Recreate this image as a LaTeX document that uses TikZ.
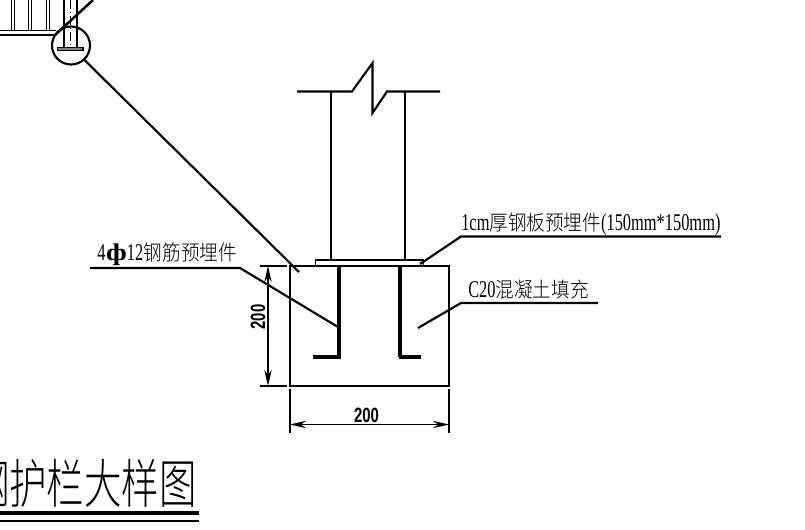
\documentclass[tikz,border=0pt]{standalone}
\usepackage{fontspec}
\setmainfont{Liberation Serif}
\newfontfamily\cjkfont{Noto Sans CJK SC Light}
\newfontfamily\dimfont{Liberation Sans}
\usetikzlibrary{arrows.meta,positioning}
\newcommand{\cadcjk}[2][.93]{\scalebox{#1}[1.05]{\cjkfont #2}}
\newcommand{\cadlat}[1]{\scalebox{.82}[1.2]{#1}}
\begin{document}
\begin{tikzpicture}[x=.75pt,y=-.75pt,>={Stealth[length=12pt,width=5.5pt]},
		thinline/.style={line width=.8pt},
		mainline/.style={line width=1.6pt},
		leader/.style={line width=1.6pt},
		rebar/.style={line width=3pt},
		dimline/.style={line width=1.3pt},
		note/.style={inner sep=0pt,font=\fontsize{15pt}{15pt}\selectfont},
		dimtext/.style={inner sep=0pt,font=\dimfont\bfseries\fontsize{15.5pt}{15.5pt}\selectfont}]
		\useasboundingbox (0,0) rectangle (805,529);
		\clip (0,0) rectangle (805,529);
		
		% railing, upper left
		\foreach \x in {13,30,48}
			\draw[thinline,double distance=1.4pt] (\x,0) -- (\x,31);
		\draw[thinline] (0,30.5) -- (56,30.5) (0,35) -- (56,35);
		\draw[thinline] (64,0) -- (64,47) (77,0) -- (77,47);
		\draw[thinline,line width=.4pt,dash pattern=on 7pt off 2pt on 1pt off 2pt] (70.5,0) -- (70.5,47);
		\draw[thinline,fill=gray] (57.5,47.5) rectangle (83,50.5);
		\draw[mainline,line width=1.9pt] (93,0) -- (55,35);
		\node[draw,circle,mainline,minimum size=28.5pt,inner sep=0pt] (detail) at (71,45.5) {};
		\coordinate (detailend) at (299,272);
		\draw[mainline] (detail) ++(13.5,14.5) -- (detailend);
		
		% column with break line
		\draw[mainline] (297,91.5) -- (352,91.5) -- (372.5,63) -- (372.5,113) -- (387,91.5) -- (440,91.5);
		\draw[mainline] (331,91.5) -- (331,260) (405,91.5) -- (405,260);
		
		% plate, concrete block, bars
		\node[draw,line width=1.2pt,minimum width=81pt,minimum height=4.5pt,inner sep=0pt] (plate) at (369.5,263) {};
		\draw[thinline] (290,266) rectangle (449,386);
		\draw[rebar] (339,266) -- (339,357);
		\draw[rebar] (313,357) -- (340.5,357);
		\draw[rebar] (400,266) -- (400,357);
		\draw[rebar] (398.5,357) -- (421,357);
		
		% notes
		\node[note,anchor=west] (barnote) at (97,254) {\cadlat{4}\hspace{.5pt}\scalebox{1.5}[1.2]{\bfseries ф}\cadlat{12}\hspace{.5pt}\cadcjk{钢筋预埋件}};
		\node[note,anchor=west] (platenote) at (461,224) {\cadlat{1cm}\cadcjk{厚钢板预埋件}\cadlat{(150mm*150mm)}};
		\node[note,anchor=west] (fillnote) at (468,290) {\cadlat{C20}\cadcjk{混凝土填充}};
		\draw[leader] (90,268) -- (240,268) -- (338,327);
		\draw[leader] (420,264) -- (461,236.5) -- (721,236.5);
		\draw[leader] (418,328) -- (461,303) -- (598,303);
		
		% dimensions
		\draw[dimline] (260,266) -- (287,266) (260,386) -- (287,386);
		\draw[dimline,<->] (268,266) -- (268,386);
		\node[dimtext,rotate=90] (dimv) at (258,317) {\scalebox{.72}[1]{200}};
		\draw[dimline] (290,389) -- (290,433) (449,389) -- (449,433);
		\draw[dimline,<->] (290,424.5) -- (449,424.5);
		\node[dimtext] (dimh) at (366.5,415) {\scalebox{.72}[1]{200}};
		
		% title
		\node[inner sep=0pt,anchor=east,font=\fontsize{36pt}{36pt}\selectfont] (title) at (197,483) {\scalebox{.78}[1.1]{\cjkfont 钢护栏大样图}};
		\draw[line width=3pt] (0,513) -- (199,513);
		\draw[line width=1.5pt] (0,521) -- (199,521);
\end{tikzpicture}
\end{document}
